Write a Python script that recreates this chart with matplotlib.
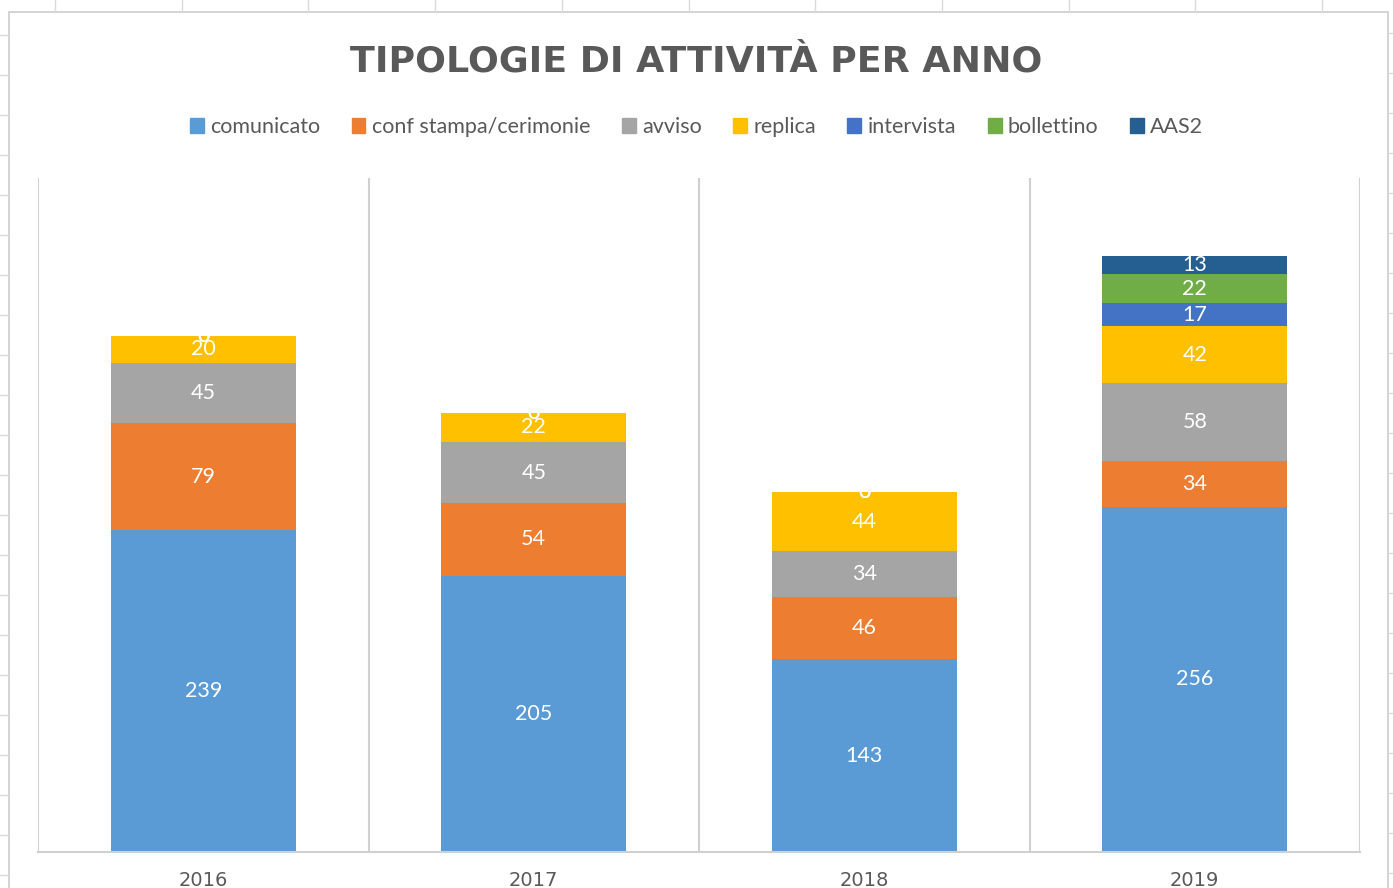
import matplotlib
matplotlib.use("Agg")
import matplotlib.pyplot as plt
from matplotlib.patches import Rectangle
from matplotlib.lines import Line2D
import numpy as np

years = ["2016", "2017", "2018", "2019"]
series_names = ["comunicato", "conf stampa/cerimonie", "avviso", "replica",
                "intervista", "bollettino", "AAS2"]
comunicato = [239, 205, 143, 256]
conf_stampa = [79, 54, 46, 34]
avviso = [45, 45, 34, 58]
replica = [20, 22, 44, 42]
intervista = [0, 0, 0, 17]
bollettino = [0, 0, 0, 22]
aas2 = [0, 0, 0, 13]
colors = ["#5B9BD5", "#ED7D31", "#A5A5A5", "#FFC000", "#4472C4", "#70AD47", "#255E91"]

values = [comunicato, conf_stampa, avviso, replica, intervista, bollettino, aas2]

W, H = 1393, 888
fig = plt.figure(figsize=(W / 100, H / 100), dpi=100)
fig.patch.set_facecolor("white")

# spreadsheet cell grid peeking around the chart object
grid_c = "#DADADA"
for k in range(11):
    x = 55 + 126.7 * k
    fig.add_artist(Line2D([x / W, x / W], [1, 1 - 12 / H], color=grid_c, lw=1))
for k in range(22):
    y = 35 + 40 * k
    fig.add_artist(Line2D([0, 9 / W], [1 - y / H, 1 - y / H], color=grid_c, lw=1))
    y2 = 33 + 40 * k
    fig.add_artist(Line2D([1388 / W, 1], [1 - y2 / H, 1 - y2 / H], color=grid_c, lw=1))

# chart frame
fig.add_artist(Rectangle((9 / W, -0.05), (1388 - 9) / W, 1.05 - 12 / H,
                         transform=fig.transFigure, fill=False,
                         edgecolor="#D0D0D0", lw=1.3))

ax = fig.add_axes([38 / W, 36 / H, (1360 - 38) / W, (852 - 178) / H])
ax.set_facecolor("none")

x = np.arange(len(years))
bottom = np.zeros(len(years))
for name, vals, col in zip(series_names, values, colors):
    vals = np.array(vals, dtype=float)
    ax.bar(x, vals, 0.56, bottom=bottom, color=col, label=name, zorder=2)
    for xi, b, v in zip(x, bottom, vals):
        ax.text(xi, b + v / 2, f"{int(v)}", ha="center", va="center",
                color="white", fontsize=15.5, family=["Lato", "DejaVu Sans"], zorder=3)
    bottom += vals

ax.set_xlim(-0.5, len(years) - 0.5)
ax.set_ylim(0, 500)
for s in ["top", "left", "right"]:
    ax.spines[s].set_visible(False)
ax.spines["bottom"].set_color("#D0D0D0")
ax.spines["bottom"].set_linewidth(1.5)
for b in np.arange(-0.5, len(years), 1.0):
    ax.axvline(b, color="#D0D0D0", lw=1.5, zorder=1)
ax.set_yticks([])
ax.set_xticks(x)
ax.set_xticklabels(years, fontsize=14, color="#595959", family=["DejaVu Sans"])
ax.tick_params(axis="x", length=0, pad=14)

fig.text(0.5, 1 - 61 / H, "TIPOLOGIE DI ATTIVITÀ PER ANNO", ha="center", va="center",
         fontsize=26.2, fontweight="bold", color="#595959", family=["DejaVu Sans"])

handles = [Rectangle((0, 0), 1, 1, color=c) for c in colors]
fig.legend(handles, series_names, loc="center", bbox_to_anchor=(0.5, 1 - 127 / H),
           ncol=7, frameon=False, handlelength=0.65, handleheight=0.65,
           handletextpad=0.3, columnspacing=1.45,
           labelcolor="#595959", prop={"family": ["Lato", "DejaVu Sans"], "size": 15.5})

fig.savefig("out.png", dpi=100, facecolor="white")
